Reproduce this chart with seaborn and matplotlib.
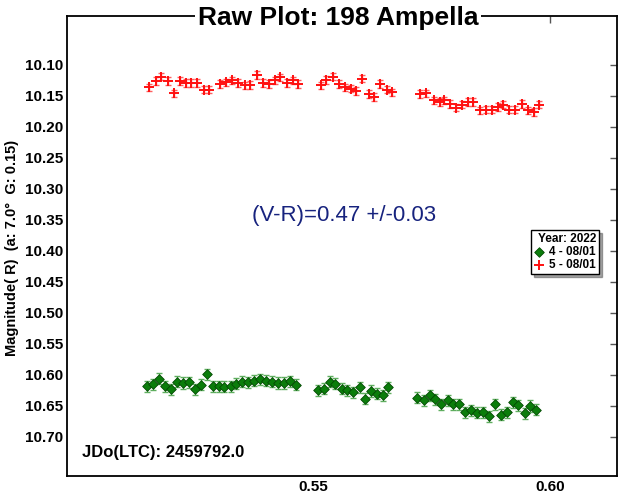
import matplotlib
matplotlib.use("Agg")
import matplotlib.pyplot as plt
import seaborn as sns
import pandas as pd

# Session 4 (08/01): fractional JD and R magnitude
s4_jd = [0.5149, 0.5163, 0.5176, 0.5188, 0.5200, 0.5213, 0.5226, 0.5238, 0.5251,
         0.5263, 0.5276, 0.5288, 0.5301, 0.5313, 0.5326, 0.5338, 0.5351, 0.5363,
         0.5375, 0.5388, 0.5400, 0.5413, 0.5426, 0.5438, 0.5451, 0.5464,
         0.5510, 0.5523, 0.5535, 0.5547, 0.5560, 0.5572, 0.5584, 0.5598, 0.5610,
         0.5622, 0.5635, 0.5648, 0.5659,
         0.5720, 0.5733, 0.5746, 0.5758, 0.5770, 0.5784, 0.5796, 0.5808, 0.5821,
         0.5833, 0.5845, 0.5858, 0.5871, 0.5884, 0.5896, 0.5909, 0.5921, 0.5933,
         0.5946, 0.5958, 0.5970]
s4_mag = [10.618, 10.615, 10.606, 10.618, 10.623, 10.611, 10.613, 10.612, 10.623,
          10.616, 10.599, 10.618, 10.618, 10.619, 10.618, 10.614, 10.611, 10.612,
          10.609, 10.607, 10.609, 10.611, 10.613, 10.613, 10.610, 10.616,
          10.625, 10.622, 10.611, 10.614, 10.622, 10.625, 10.628, 10.620, 10.638,
          10.626, 10.630, 10.633, 10.620,
          10.637, 10.641, 10.633, 10.639, 10.647, 10.641, 10.647, 10.647, 10.660,
          10.657, 10.661, 10.660, 10.667, 10.647, 10.664, 10.660, 10.644, 10.649,
          10.662, 10.650, 10.656]
s4_err = 0.009

# Session 5 (08/01): fractional JD and R magnitude
s5_jd = [0.5154, 0.5168, 0.5180, 0.5194, 0.5207, 0.5219, 0.5231, 0.5243, 0.5255,
         0.5269, 0.5280, 0.5304, 0.5316, 0.5330, 0.5342, 0.5356, 0.5368, 0.5382,
         0.5394, 0.5407, 0.5419, 0.5431, 0.5444, 0.5457, 0.5469,
         0.5516, 0.5528, 0.5541, 0.5554, 0.5567, 0.5579, 0.5591, 0.5603, 0.5617,
         0.5629, 0.5642, 0.5655, 0.5667,
         0.5726, 0.5739, 0.5754, 0.5767, 0.5777, 0.5789, 0.5801, 0.5815, 0.5827,
         0.5838, 0.5852, 0.5864, 0.5877, 0.5889, 0.5901, 0.5914, 0.5926, 0.5940,
         0.5954, 0.5965, 0.5977]
s5_mag = [10.136, 10.126, 10.119, 10.126, 10.146, 10.126, 10.129, 10.129, 10.129,
          10.140, 10.140, 10.131, 10.128, 10.125, 10.129, 10.133, 10.132, 10.116,
          10.129, 10.131, 10.125, 10.120, 10.129, 10.125, 10.131,
          10.133, 10.124, 10.119, 10.131, 10.136, 10.138, 10.142, 10.122, 10.147,
          10.152, 10.131, 10.140, 10.144,
          10.147, 10.146, 10.157, 10.160, 10.157, 10.163, 10.169, 10.164, 10.160,
          10.160, 10.173, 10.172, 10.172, 10.168, 10.164, 10.172, 10.172, 10.163,
          10.173, 10.176, 10.164]
s5_err = 0.006

series_labels = ["4 - 08/01", "5 - 08/01"]
y_ticks = [10.10, 10.15, 10.20, 10.25, 10.30, 10.35, 10.40, 10.45, 10.50,
           10.55, 10.60, 10.65, 10.70]
x_ticks = [0.55, 0.60]

title_text = "Raw Plot: 198 Ampella"
color_index_text = "(V-R)=0.47 +/-0.03"
jd_text = "JDo(LTC): 2459792.0"
ylabel_text = "Magnitude( R)  (a: 7.0\u00b0  G: 0.15)"
legend_title = "Year: 2022"

df4 = pd.DataFrame({"jd": s4_jd, "mag": s4_mag})
df5 = pd.DataFrame({"jd": s5_jd, "mag": s5_mag})

sns.set_theme(style="white")
plt.rcParams["font.family"] = ["Liberation Sans", "DejaVu Sans"]
plt.rcParams["text.color"] = "black"
plt.rcParams["axes.labelcolor"] = "black"
plt.rcParams["xtick.color"] = "black"
plt.rcParams["ytick.color"] = "black"

W, H = 618, 498
fig = plt.figure(figsize=(W / 100, H / 100), dpi=100)
ax = fig.add_axes([67 / W, (H - 476) / H, 550 / W, 460 / H])

green = "#0b7d0b"
green_edge = "#044a04"
green_err = "#5fae5f"
red = "#ff1010"
red_err = "#ff6060"

# error bars
ax.errorbar(df4["jd"], df4["mag"], yerr=s4_err, fmt="none", ecolor=green_err,
            elinewidth=1.0, capsize=2.5, capthick=1.0, zorder=2)
ax.errorbar(df5["jd"], df5["mag"], yerr=s5_err, fmt="none", ecolor=red_err,
            elinewidth=1.0, capsize=2.0, capthick=1.0, zorder=2)

# markers
sns.scatterplot(data=df4, x="jd", y="mag", marker="D", s=24, color=green,
                edgecolor=green_edge, linewidth=0.6, label=series_labels[0],
                ax=ax, zorder=3)
sns.scatterplot(data=df5, x="jd", y="mag", marker="+", s=45, color=red,
                linewidth=1.4, label=series_labels[1], ax=ax, zorder=3)

ax.set_xlim(0.4981, 0.6141)
ax.set_ylim(10.763, 10.021)
ax.set_xticks(x_ticks)
ax.set_xticklabels([f"{v:.2f}" for v in x_ticks], fontweight="bold", fontsize=11)
ax.set_yticks(y_ticks)
ax.set_yticklabels([f"{v:.2f}" for v in y_ticks], fontweight="bold", fontsize=11)
ax.tick_params(direction="in", top=True, right=True, length=5, width=1,
               color="#555555", pad=3, labelcolor="black")
ax.set_xlabel("")
ax.set_ylabel("")
for side, sp in ax.spines.items():
    sp.set_color("black")
    sp.set_linewidth(1.3)

fig.text(12 / W, 1 - 248 / H, ylabel_text, rotation=90, ha="center", va="center",
         fontsize=10.5, fontweight="bold", color="black")

fig.text(338 / W, 1 - 18 / H, title_text, ha="center", va="center",
         fontsize=19, fontweight="bold", color="black",
         bbox=dict(facecolor="white", edgecolor="none", pad=2))

ax.text(0.504, 0.567, color_index_text, transform=ax.transAxes, ha="center",
        va="center", fontsize=16, color="#17237e")
ax.text(0.027, 0.052, jd_text, transform=ax.transAxes, ha="left", va="center",
        fontsize=12, fontweight="bold", color="black")

leg = ax.legend(loc="upper right", bbox_to_anchor=(0.967, 0.535), borderaxespad=0,
                title=legend_title, title_fontproperties={"weight": "bold", "size": 8.5},
                prop={"weight": "bold", "size": 8.5}, frameon=True, fancybox=False,
                shadow=True, handlelength=0.8, handletextpad=0.5, labelspacing=0.1,
                borderpad=0.25, alignment="right")
leg.get_frame().set_edgecolor("black")
leg.get_frame().set_linewidth(1.0)
leg.get_title().set_color("black")
for t in leg.get_texts():
    t.set_color("black")

fig.savefig("out.png", dpi=100, facecolor="white")
